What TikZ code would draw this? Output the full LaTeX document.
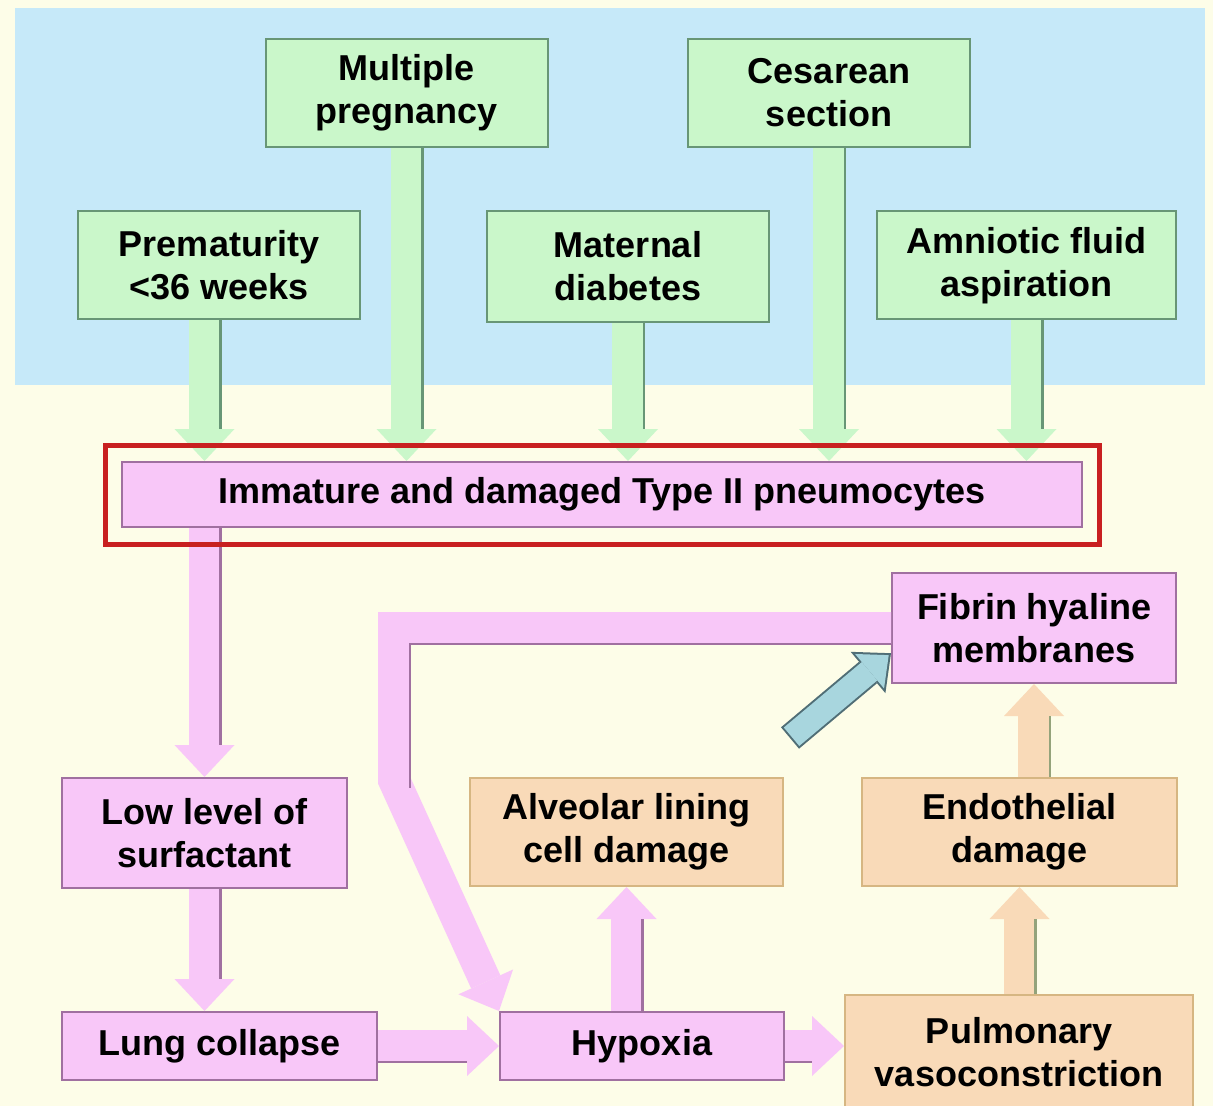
\documentclass[tikz,border=0pt]{standalone}
\usepackage{fontspec}
\setmainfont{Liberation Sans}
\usetikzlibrary{arrows.meta, positioning, fit}

\definecolor{cream}{RGB}{253,253,232}
\definecolor{skyback}{RGB}{198,233,249}
\definecolor{mint}{RGB}{202,247,202}
\definecolor{mintline}{RGB}{104,150,118}
\definecolor{orchid}{RGB}{248,199,248}
\definecolor{orchidline}{RGB}{160,112,160}
\definecolor{peach}{RGB}{249,218,184}
\definecolor{peachline}{RGB}{214,182,130}
\definecolor{framered}{RGB}{200,32,32}
\definecolor{icyblue}{RGB}{168,214,222}
\definecolor{icyline}{RGB}{80,110,118}

\begin{document}
\begin{tikzpicture}[x=0.5pt, y=-0.5pt,
    box/.style={rectangle, draw, line width=1pt, align=center, inner sep=2pt,
                font=\fontsize{18}{21.5}\selectfont\bfseries},
    cause/.style={box, fill=mint, draw=mintline, minimum width=141pt, minimum height=54pt},
    lungbox/.style={box, fill=orchid, draw=orchidline},
    tissue/.style={box, fill=peach, draw=peachline},
    fat/.style={line width=16pt, draw=#1, -{Triangle[width=30pt,length=16pt,line width=0pt]}},
    edgeR/.style={postaction={draw=#1, line width=1.3pt, -, shorten >=16pt, transform canvas={xshift=8pt}}},
    edgeB/.style={postaction={draw=#1, line width=1.3pt, -, shorten >=16pt, transform canvas={yshift=-8pt}}}
]
\useasboundingbox (0,0) rectangle (1213,1106);
\fill[cream] (0,0) rectangle (1213,1106);
\fill[skyback] (15,8) rectangle (1205,385);

% causes
\node[cause] (mult)  at (406.5,93)  {Multiple\\pregnancy};
\node[cause] (ces)   at (829,93)    {Cesarean\\section};
\node[cause] (prem)  at (219,265.5) {Prematurity\\<36 weeks};
\node[cause, minimum height=55.5pt] (diab) at (628,266.5) {Maternal\\diabetes};
\node[cause, minimum width=149.5pt] (amnio) at (1026.5,265.5) {Amniotic fluid\\aspiration};

% cells and lung
\node[lungbox, minimum width=480pt, minimum height=32.5pt] (imm) at (602,494.5) {Immature and damaged Type II pneumocytes};
\node[lungbox, minimum width=142.5pt, minimum height=55pt] (low)  at (204.5,833) {Low level of\\surfactant};
\node[lungbox, minimum width=157.5pt, minimum height=34pt] (lung) at (219.5,1046) {Lung collapse};
\node[lungbox, minimum width=142pt, minimum height=34pt]   (hyp)  at (642,1046) {Hypoxia};
\node[lungbox, minimum width=142pt, minimum height=55pt]   (fib)  at (1034,628) {Fibrin hyaline\\membranes};
\node[tissue, minimum width=156.5pt, minimum height=54pt] (alv)  at (626.5,832) {Alveolar lining\\cell damage};
\node[tissue, minimum width=157.5pt, minimum height=54pt] (endo) at (1019.5,832) {Endothelial\\damage};
\node[tissue, minimum width=174pt, minimum height=57pt]   (pulm) at (1019,1052) {Pulmonary\\vasoconstriction};

\coordinate (loopturn) at (394,780);
\coordinate (bluetail) at (790,738);

% into the pneumocytes
\draw[fat=mint, edgeR=mintline] (prem.south -| low) -- (imm.north -| low);
\draw[fat=mint, edgeR=mintline] (mult.south) -- (mult.south |- imm.north);
\draw[fat=mint, edgeR=mintline] (diab.south) -- (diab.south |- imm.north);
\draw[fat=mint, edgeR=mintline] (ces.south) -- (ces.south |- imm.north);
\draw[fat=mint, edgeR=mintline] (amnio.south) -- (amnio.south |- imm.north);

% the chain below
\draw[fat=orchid, edgeR=orchidline] (imm.south -| low.north) -- (low.north);
\draw[fat=orchid, edgeR=orchidline] (low.south) -- (low.south |- lung.north);
\draw[fat=orchid, edgeB=orchidline] (lung.east) -- (hyp.west);
\draw[fat=orchid, edgeB=orchidline] (hyp.east) -- (hyp.east -| pulm.west);
\draw[fat=orchid, edgeR=orchidline] (alv.south |- hyp.north) -- (alv.south);
\draw[fat=peach, edgeR=mintline!60!peachline] (endo.south |- pulm.north) -- (endo.south);
\draw[fat=peach, edgeR=mintline!60!peachline] (fib.south |- endo.north) -- (fib.south);
\draw[fat=orchid, line join=miter] (fib.west) -| (loopturn) -- (hyp.north west);
\draw[orchidline, line width=1.3pt, shorten <=8pt, shorten >=4pt,
      transform canvas={xshift=8pt, yshift=-8pt}] (fib.west) -| (loopturn);

% blue arrow
\draw[line width=14pt, draw=icyline, -{Triangle[width=27pt,length=15pt,line width=0pt]}] (bluetail) -- (fib.190);
\draw[line width=12pt, draw=icyblue, shorten <=1pt, shorten >=1.5pt,
      -{Triangle[width=22.5pt,length=12.5pt,line width=0pt]}] (bluetail) -- (fib.190);

\node[draw=framered, line width=2.5pt, inner sep=8pt, fit=(imm)] (frame) {};
\end{tikzpicture}
\end{document}
